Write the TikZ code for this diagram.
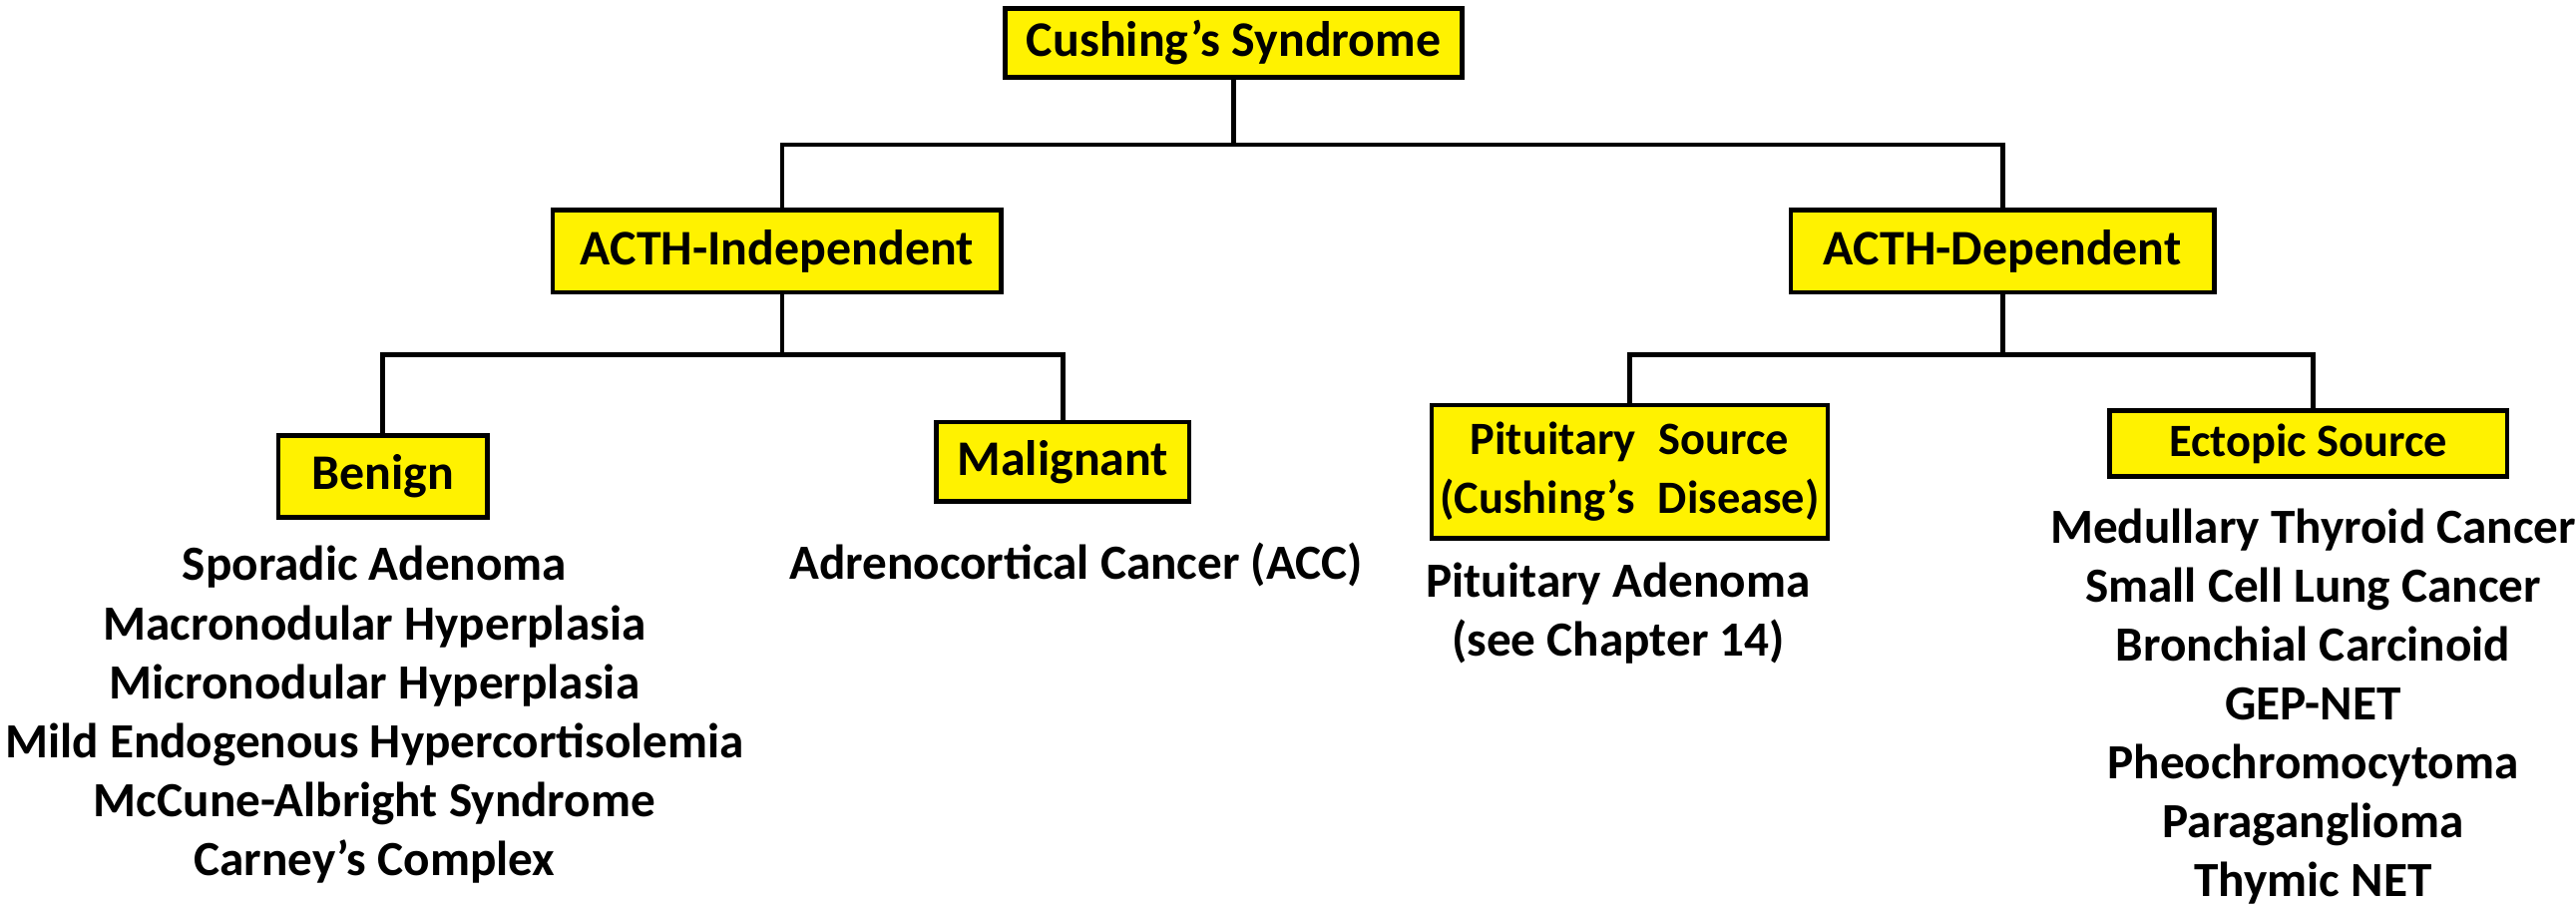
\documentclass[tikz,border=0pt]{standalone}
\usepackage{fontspec}
\setmainfont{Carlito}
\begin{document}
\begin{tikzpicture}[x=0.01647cm,y=-0.01647cm,
 box/.style={draw=black,fill=yellow,line width=1.3pt,font=\bfseries\fontsize{14.2}{18}\selectfont,inner sep=0,align=center},
 sbox/.style={box,font=\bfseries\fontsize{13.2}{17}\selectfont},
 lst/.style={font=\bfseries\fontsize{14}{16.8}\selectfont,align=center,inner sep=0},
 ln/.style={line width=1.3pt}]
\useasboundingbox (0,0) rectangle (1568,551);
\node[box,minimum width=278*0.01647cm,minimum height=42*0.01647cm] (cs) at (751,26) {Cushing’s Syndrome};
\node[box,minimum width=273*0.01647cm,minimum height=50*0.01647cm] (ai) at (473,153) {ACTH-Independent};
\node[box,minimum width=258*0.01647cm,minimum height=50*0.01647cm] (ad) at (1219,153) {ACTH-Dependent};
\node[box,minimum width=127*0.01647cm,minimum height=50*0.01647cm] (be) at (233,290) {Benign};
\node[box,minimum width=154*0.01647cm,minimum height=48*0.01647cm] (ma) at (647,281) {Malignant};
\node[sbox,minimum width=241*0.01647cm,minimum height=81*0.01647cm] (pi) at (992,287) {Pituitary\hspace{0.5em}Source\\(Cushing’s\hspace{0.5em}Disease)};
\node[sbox,minimum width=242*0.01647cm,minimum height=40*0.01647cm] (ec) at (1405,270) {Ectopic Source};
\coordinate (j1) at (751,88);
\coordinate (j2) at (476,216);
\coordinate (j3) at (1219,216);
\draw[ln] (cs.south) -- (j1);
\draw[ln] (j1) -| (ai.north -| 476,0);
\draw[ln] (j1) -| (ad.north);
\draw[ln] (ai.south -| 476,0) -- (j2);
\draw[ln] (j2) -| (be.north);
\draw[ln] (j2) -| (ma.north);
\draw[ln] (ad.south) -- (j3);
\draw[ln] (j3) -| (pi.north);
\draw[ln] (j3) -| (ec.north -| 1408,0);
\node[lst,anchor=north] (bl) at (228,332) {Sporadic Adenoma\\Macronodular Hyperplasia\\Micronodular Hyperplasia\\Mild Endogenous Hypercortisolemia\\McCune-Albright Syndrome\\Carney’s Complex};
\node[lst,anchor=north] (ml) at (655,330) {Adrenocortical Cancer (ACC)};
\node[lst,anchor=north] (pl) at (985,342) {Pituitary Adenoma\\(see Chapter 14)};
\node[lst,anchor=north] (el) at (1408,309) {Medullary Thyroid Cancer\\Small Cell Lung Cancer\\Bronchial Carcinoid\\GEP-NET\\Pheochromocytoma\\Paraganglioma\\Thymic NET};
\end{tikzpicture}
\end{document}
